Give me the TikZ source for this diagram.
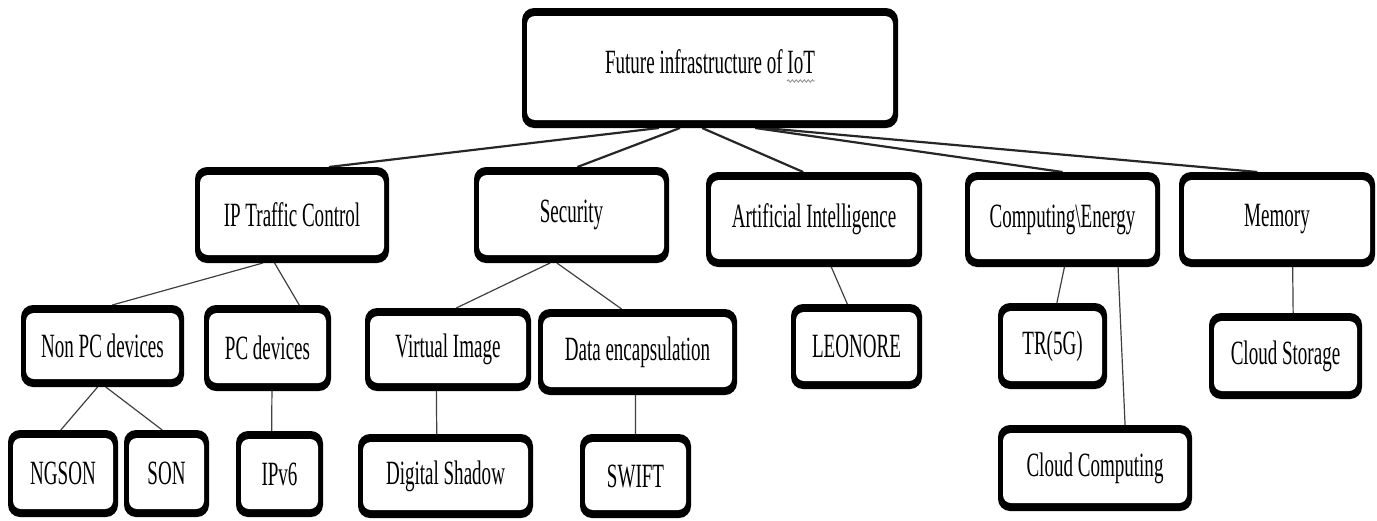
\documentclass[tikz,border=0pt]{standalone}
\usepackage{graphicx}
\usepackage{fontspec}
\setmainfont{Liberation Serif}
\usetikzlibrary{calc,backgrounds,decorations.pathmorphing}
\tikzset{
  box/.style={fill=black, rounded corners=6pt, inner sep=0pt, outer sep=0pt,
    font=\fontsize{17}{20}\selectfont,
    path picture={\fill[white, rounded corners=4pt]
      ($(path picture bounding box.south west)+(2.5pt,4pt)$) rectangle
      ($(path picture bounding box.north east)+(-2.5pt,-4pt)$);}},
  conn/.style={draw=black!75, line width=0.6pt},
  rootconn/.style={draw=black!85, line width=1.1pt},
  squig/.style={draw=black!45, line width=0.4pt, decorate,
    decoration={snake, amplitude=0.6pt, segment length=2pt}}
}
\newcommand\mybox[6]{\node[box, minimum width={(#4-#2)*0.5pt}, minimum height={(#5-#3)*0.5pt}] (#1) at ({(#2+#4)/2},{(#3+#5)/2}) {\scalebox{0.56}[1]{#6}};}
\newcommand\lnk[5][conn]{\draw[#1] ($(#2.south west)!#3!(#2.south east)$) -- ($(#4.north west)!#5!(#4.north east)$);}
\begin{document}
\begin{tikzpicture}[x=0.5pt,y=-0.5pt]
\useasboundingbox (0,0) rectangle (1377,520);
% boxes
\mybox{root}{522}{8}{898}{128}{\raisebox{6pt}{Future infrastructure of IoT}}
\mybox{ipt}{195}{167}{389}{263}{IP Traffic Control}
\mybox{sec}{474}{167}{669}{263}{Security}
\mybox{ai}{706}{172}{922}{267}{Artificial Intelligence}
\mybox{comp}{965}{172}{1160}{267}{Computing\textbackslash Energy}
\mybox{mem}{1179}{172}{1375}{267}{Memory}
\mybox{nonpc}{21}{305}{184}{387}{Non PC devices}
\mybox{pc}{204}{305}{331}{391}{PC devices}
\mybox{vimg}{365}{308}{531}{391}{Virtual Image}
\mybox{data}{538}{309}{737}{395}{Data encapsulation}
\mybox{leo}{791}{304}{922}{389}{LEONORE}
\mybox{tr}{998}{303}{1107}{389}{TR(5G)}
\mybox{cstor}{1209}{313}{1362}{399}{Cloud Storage}
\mybox{ngson}{8}{430}{118}{517}{NGSON}
\mybox{son}{124}{430}{209}{517}{SON}
\mybox{ipv}{236}{431}{323}{517}{IPv6}
\mybox{dshad}{358}{434}{533}{518}{Digital Shadow}
\mybox{swift}{580}{434}{691}{518}{SWIFT}
\mybox{ccomp}{998}{425}{1192}{511}{Cloud Computing}
% spell-check squiggle under IoT
\coordinate (sqa) at (787,81);
\coordinate (sqb) at (815,81);
\draw[squig] (sqa) -- (sqb);
\begin{pgfonlayer}{background}
\lnk[rootconn]{root}{0.364}{ipt}{0.69}
\lnk[rootconn]{root}{0.42}{sec}{0.53}
\lnk[rootconn]{root}{0.479}{ai}{0.45}
\lnk[rootconn]{root}{0.62}{comp}{0.5}
\lnk[rootconn]{root}{0.644}{mem}{0.40}
\lnk{ipt}{0.35}{nonpc}{0.56}
\lnk{ipt}{0.41}{pc}{0.75}
\lnk{nonpc}{0.47}{ngson}{0.48}
\lnk{nonpc}{0.52}{son}{0.45}
\lnk{pc}{0.535}{ipv}{0.41}
\lnk{sec}{0.39}{vimg}{0.55}
\lnk{sec}{0.425}{data}{0.42}
\lnk{vimg}{0.43}{dshad}{0.45}
\lnk{data}{0.49}{swift}{0.5}
\lnk{ai}{0.58}{leo}{0.43}
\lnk{comp}{0.51}{tr}{0.54}
\lnk{comp}{0.785}{ccomp}{0.655}
\lnk{mem}{0.58}{cstor}{0.55}
\end{pgfonlayer}
\end{tikzpicture}
\end{document}
